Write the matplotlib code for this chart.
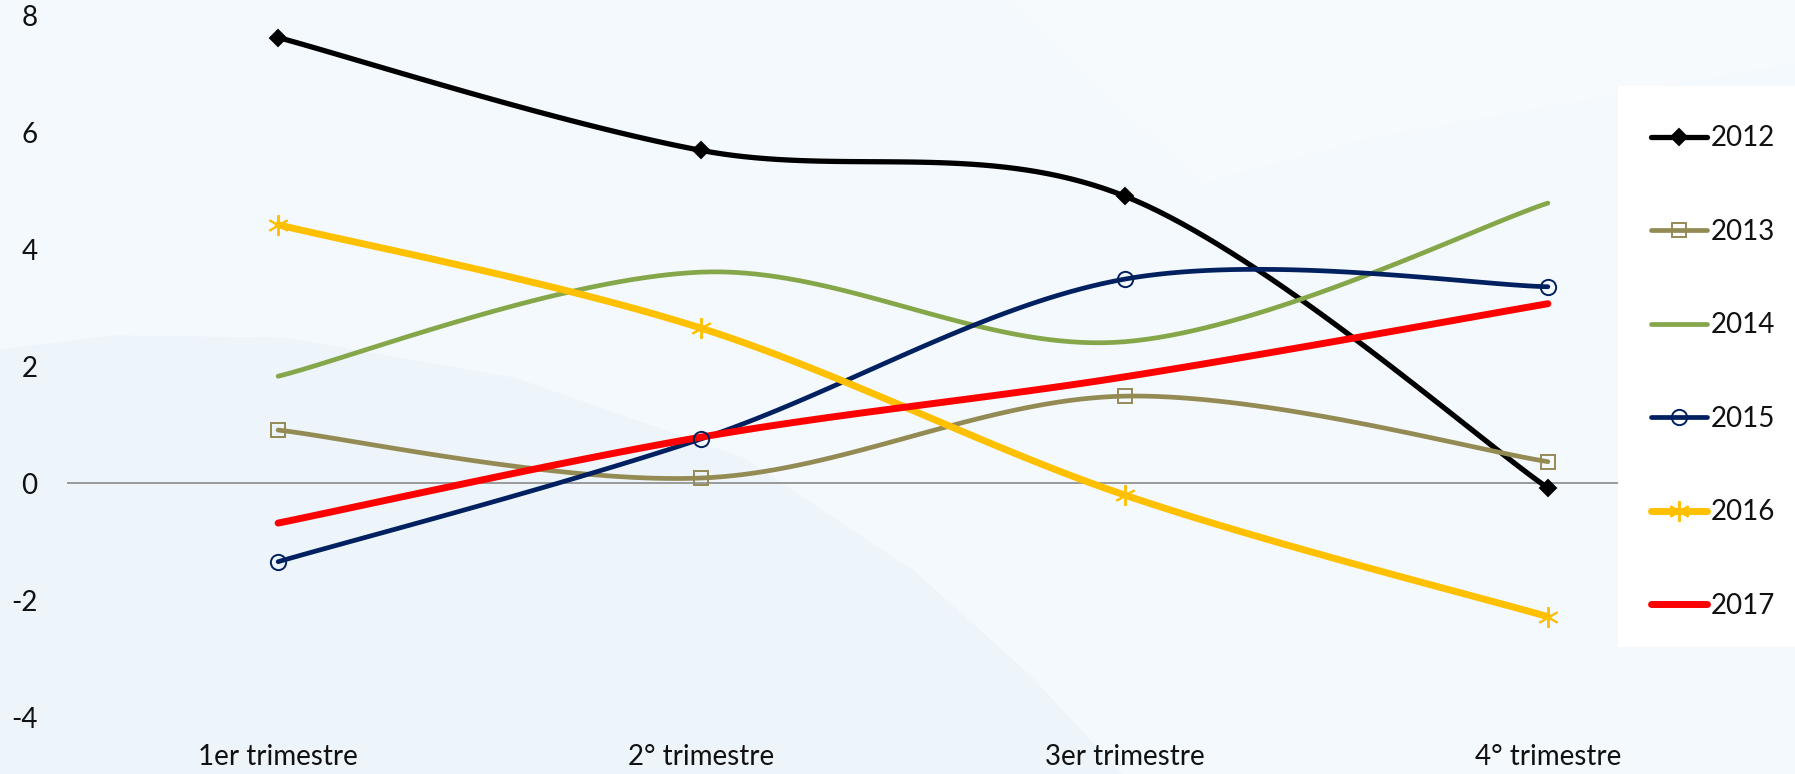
import numpy as np
import matplotlib
matplotlib.use("Agg")
import matplotlib.pyplot as plt
from matplotlib.lines import Line2D
from matplotlib.patches import Polygon, Rectangle

# data
quarters = ['1er trimestre', '2° trimestre', '3er trimestre', '4° trimestre']
years = ['2012', '2013', '2014', '2015', '2016', '2017']
v2012 = [7.62, 5.69, 4.91, -0.08]
v2013 = [0.91, 0.09, 1.49, 0.37]
v2014 = [1.83, 3.61, 2.42, 4.79]
v2015 = [-1.34, 0.76, 3.49, 3.36]
v2016 = [4.42, 2.65, -0.20, -2.28]
v2017 = [-0.68, 0.79, 1.82, 3.07]
yticks = [-4, -2, 0, 2, 4, 6, 8]

series = [v2012, v2013, v2014, v2015, v2016, v2017]
colors = ['#000000', '#948A54', '#86A64A', '#002060', '#FFC000', '#FF0000']
widths = [3.8, 3.4, 3.4, 3.4, 5.0, 5.0]
markers = ['D', 's', None, 'o', (6, 2, 0), None]
msizes = [8, 10, 0, 11, 15, 0]
mfaces = ['#000000', 'none', 'none', 'none', 'none', 'none']
FS = 20


def smooth(y, n=40):
     '''
     Excel style smoothing: bezier segments with catmull-rom control points
     '''
     x = np.arange(len(y), dtype=float)
     pts = np.column_stack([x, np.asarray(y, dtype=float)])
     ext = np.vstack([pts[0], pts, pts[-1]])
     out = []
     for i in range(len(pts) - 1):
          p0, p1, p2, p3 = ext[i], ext[i+1], ext[i+2], ext[i+3]
          c1 = p1 + (p2 - p0) / 6.0
          c2 = p2 - (p3 - p1) / 6.0
          t = np.linspace(0, 1, n)[:, None]
          seg = ((1-t)**3)*p1 + 3*((1-t)**2)*t*c1 + 3*(1-t)*t**2*c2 + t**3*p2
          out.append(seg if i == 0 else seg[1:])
     out = np.vstack(out)
     return out[:, 0], out[:, 1]


fig = plt.figure(figsize=[17.95, 7.74], dpi=100)
fig.patch.set_facecolor('#f3f9fc')

# faint background swooshes
W, H = 1568.0, 676.0
lower = [(0, 305), (100, 293), (250, 295), (450, 330), (650, 400), (800, 500),
         (900, 590), (980, 676), (0, 676)]
fig.add_artist(Polygon([(a/W, 1-b/H) for a, b in lower], closed=True,
                       transform=fig.transFigure, facecolor='#edf4fa',
                       edgecolor='none', zorder=-5))
upper = [(880, 0), (1568, 0), (1568, 55), (1400, 85), (1200, 120), (1050, 160)]
fig.add_artist(Polygon([(a/W, 1-b/H) for a, b in upper], closed=True,
                       transform=fig.transFigure, facecolor='#f6fafd',
                       edgecolor='none', zorder=-5))

ax = fig.add_axes([66.5/1795, (774-717.3)/774, (1759.5-66.5)/1795, 702/774])
ax.set_facecolor('none')
ax.axhline(0, color='#9a9a9a', lw=1.4, zorder=1)

handles = []
for i in range(len(series)):
     xs, ys = smooth(series[i])
     ax.plot(xs, ys, color=colors[i], lw=widths[i], solid_capstyle='round', zorder=3)
     if markers[i] is not None:
          ax.plot(range(len(quarters)), series[i], ls='none', marker=markers[i],
                  ms=msizes[i], mfc=mfaces[i], mec=colors[i], mew=1.4, zorder=4)
     handles.append(Line2D([0], [0], color=colors[i], lw=widths[i],
                           solid_capstyle='round', marker=markers[i] if markers[i] else '',
                           ms=msizes[i], mfc=mfaces[i], mec=colors[i], mew=1.4))

ax.set_xlim(-0.5, 3.5)
ax.set_ylim(-4, 8)
ax.set_xticks(range(len(quarters)))
ax.set_xticklabels(quarters, fontsize=FS, family='Lato', color='#111111')
ax.set_yticks(yticks)
ax.set_yticklabels([str(v) for v in yticks], fontsize=FS, family='Lato', color='#111111')
ax.tick_params(axis='x', length=0, pad=19)
ax.tick_params(axis='y', length=0, pad=21)
for s in ax.spines.values():
     s.set_visible(False)

# white legend panel on the right
fig.add_artist(Rectangle((1618/1795, 1-647/774), 1-1618/1795, (647-86)/774,
                         transform=fig.transFigure, facecolor='white',
                         edgecolor='none', zorder=5))
leg = fig.legend(handles, years, loc='upper left',
                 bbox_to_anchor=(1618/1795, 1-92/774), bbox_transform=fig.transFigure,
                 borderaxespad=0, borderpad=1.2, labelspacing=2.43,
                 handlelength=2.0, handletextpad=0.15, numpoints=1,
                 frameon=False, prop={'family': 'Lato', 'size': FS})
leg.set_zorder(6)
for t in leg.get_texts():
     t.set_color('#111111')

plt.savefig('out.png', dpi=100, facecolor=fig.get_facecolor())
